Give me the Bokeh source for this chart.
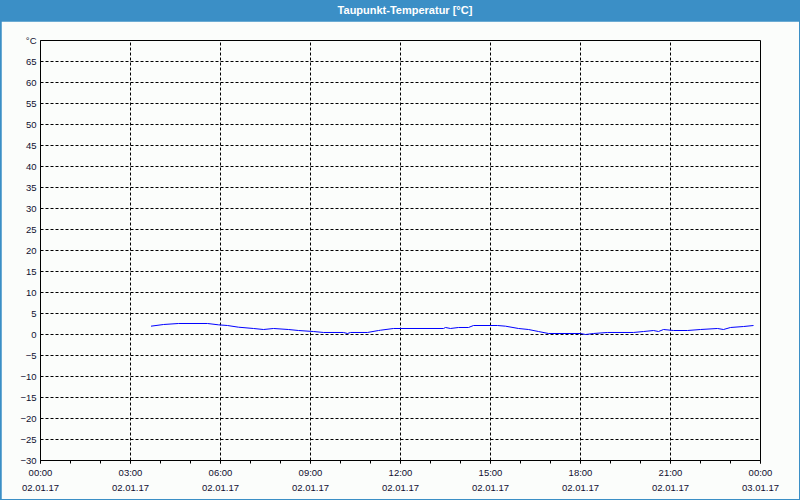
from bokeh.plotting import figure
from bokeh.models import Range1d, FixedTicker, Div, Column
from bokeh.embed import file_html
from bokeh.resources import INLINE

# ---- data ----
title_text = "Taupunkt-Temperatur [°C]"
times = ["03:41", "04:06", "04:36", "05:34", "05:56", "06:14", "06:36", "07:06",
         "07:26", "07:46", "08:16", "08:36", "09:06", "09:26", "10:06", "10:14",
         "10:20", "10:54", "11:16", "11:20", "11:46", "13:26", "13:30", "13:40",
         "13:56", "14:16", "14:26", "15:14", "15:30", "15:56", "16:16", "16:36",
         "16:56", "18:00", "18:10", "18:26", "18:54", "19:46", "20:06", "20:26",
         "20:36", "20:46", "21:06", "21:34", "22:00", "22:34", "22:46", "23:00",
         "23:26", "23:46"]
values = [1.98, 2.38, 2.62, 2.62, 2.30, 2.14, 1.74, 1.43,
          1.19, 1.43, 1.19, 0.95, 0.71, 0.48, 0.48, 0.24,
          0.48, 0.48, 0.95, 1.02, 1.43, 1.43, 1.67, 1.43,
          1.67, 1.67, 2.14, 2.14, 1.98, 1.43, 1.19, 0.71,
          0.24, 0.24, 0.00, 0.24, 0.48, 0.48, 0.71, 0.95,
          0.71, 1.19, 0.95, 0.95, 1.19, 1.43, 1.19, 1.67,
          1.90, 2.14]
x_ticks = [0, 3, 6, 9, 12, 15, 18, 21, 24]
x_tick_labels = ["00:00\n02.01.17", "03:00\n02.01.17", "06:00\n02.01.17",
                 "09:00\n02.01.17", "12:00\n02.01.17", "15:00\n02.01.17",
                 "18:00\n02.01.17", "21:00\n02.01.17", "00:00\n03.01.17"]
y_ticks = list(range(-30, 75, 5))
y_unit_label = "°C"

hours = [int(t[:2]) + int(t[3:]) / 60 for t in times]

BG = "#fbfdfb"
BLUE = "#3b8fc6"
FONT = "Liberation Sans"

p = figure(width=798, height=478, output_backend="svg", toolbar_location=None,
           x_range=Range1d(0, 24), y_range=Range1d(-30, 70),
           min_border_left=39, min_border_right=39, min_border_top=19,
           min_border_bottom=39)
p.margin = (0, 1, 1, 1)
p.background_fill_color = BG
p.border_fill_color = BG
p.outline_line_color = "black"
p.outline_line_width = 1

p.line(hours, values, line_color="#0000ff", line_width=1)

# x axis
xa = p.xaxis[0]
xa.ticker = FixedTicker(ticks=x_ticks, minor_ticks=list(range(0, 25)))
xa.major_label_overrides = {t: lab for t, lab in zip(x_ticks, x_tick_labels)}
xa.major_tick_in = 0
xa.major_tick_out = 3
xa.minor_tick_in = 0
xa.minor_tick_out = 3
xa.axis_line_color = "black"
xa.major_tick_line_color = "black"
xa.minor_tick_line_color = "black"
xa.major_label_text_font = FONT
xa.major_label_text_font_size = "9.5px"
xa.major_label_text_color = "#101030"
xa.major_label_text_line_height = 1.4
xa.major_label_standoff = 3

# y axis
ya = p.yaxis[0]
ya.ticker = FixedTicker(ticks=y_ticks, minor_ticks=[])
ya.major_label_overrides = {70: y_unit_label}
ya.major_tick_in = 0
ya.major_tick_out = 0
ya.minor_tick_in = 0
ya.minor_tick_out = 0
ya.axis_line_color = "black"
ya.major_label_text_font = FONT
ya.major_label_text_font_size = "9.5px"
ya.major_label_text_color = "#101030"
ya.major_label_standoff = 4

for g in (p.xgrid[0], p.ygrid[0]):
    g.grid_line_color = "black"
    g.grid_line_dash = "3 2"
    g.grid_line_width = 1
p.xgrid[0].ticker = FixedTicker(ticks=x_ticks[1:-1])
p.ygrid[0].ticker = FixedTicker(ticks=y_ticks[1:-1])

title = Div(text=title_text, width=800, height=21,
            styles={"background-color": BLUE, "color": "white",
                    "font-family": FONT, "font-weight": "bold",
                    "font-size": "11px", "text-align": "center",
                    "text-indent": "10px",
                    "line-height": "20px", "width": "800px"})
title.margin = (0, 0, 0, 0)

layout = Column(children=[title, p], width=800, height=500,
                styles={"background-color": BLUE, "gap": "0px"})
layout.margin = (0, 0, 0, 0)

open("out.html", "w").write(file_html(layout, INLINE))
